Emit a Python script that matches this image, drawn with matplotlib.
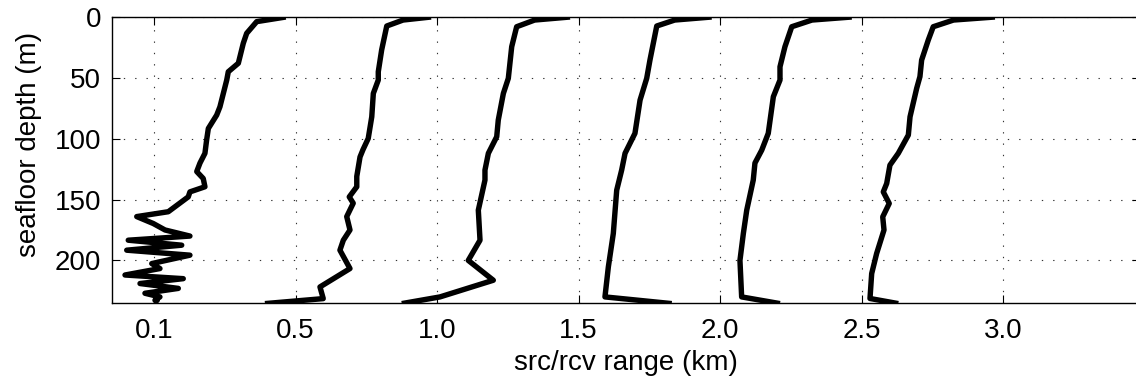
import numpy as np
import matplotlib
matplotlib.use("Agg")
import matplotlib.pyplot as plt

plt.rcParams['font.family'] = ['Liberation Sans', 'DejaVu Sans']

# Tick labels: source/receiver range (km) for each profile column
range_labels = ["0.1", "0.5", "1.0", "1.5", "2.0", "2.5", "3.0"]

# Profiles: depth (m) and normalized value (offset from own column, in column units)
depth_1 = [0, 3.8, 13.4, 21.6, 38, 45, 51.8, 73.8, 80.6, 91.6, 101, 112, 120, 127, 132.7,
           139.5, 143.7, 147.8, 160, 164, 169.7, 175, 180, 183.4, 187.5, 191.6, 195.7,
           202.6, 206.7, 212, 215, 219, 223, 227, 230, 232.7, 235]
value_1 = [0.931, 0.726, 0.655, 0.631, 0.596, 0.525, 0.514, 0.466, 0.443, 0.384, 0.372,
           0.360, 0.325, 0.302, 0.348, 0.360, 0.254, 0.242, 0.101, -0.122, -0.005, 0.078,
           0.254, -0.182, 0.196, -0.193, 0.254, -0.016, 0.042, -0.205, 0.207, -0.099,
           0.172, -0.064, 0.042, 0.007, 0.030]

depth_2 = [0, 2.5, 7.4, 27, 45, 51.8, 62.8, 82, 99.8, 109, 115, 131, 139.5, 147.8, 153,
           164, 175, 183.4, 191.6, 206.7, 221.8, 231.4, 235.5]
value_2 = [0.958, 0.76, 0.645, 0.609, 0.585, 0.585, 0.550, 0.539, 0.514, 0.477, 0.456,
           0.433, 0.433, 0.380, 0.408, 0.362, 0.385, 0.338, 0.314, 0.385, 0.173, 0.196,
           -0.216]

depth_3 = [0, 2.5, 8, 24.4, 50.4, 62.8, 84.7, 98.4, 112, 125.8, 134, 158.7, 183.4, 200,
           216.3, 230, 235.5]
value_3 = [0.940, 0.69, 0.563, 0.528, 0.504, 0.469, 0.433, 0.422, 0.363, 0.339, 0.339,
           0.292, 0.304, 0.221, 0.398, 0.021, -0.249]

depth_4 = [0, 2.5, 7.4, 35.4, 50.4, 68.3, 95.6, 112, 125.8, 142.3, 177.9, 205.3, 230, 235.5]
value_4 = [0.941, 0.68, 0.553, 0.505, 0.482, 0.435, 0.399, 0.329, 0.305, 0.270, 0.246,
           0.211, 0.187, 0.659]

depth_5 = [0, 2.5, 8, 24.4, 40.9, 51.8, 65.5, 95.6, 109.4, 120, 134, 158.7, 177.9, 200,
           230, 235.5]
value_5 = [0.931, 0.65, 0.507, 0.459, 0.424, 0.424, 0.377, 0.341, 0.295, 0.247, 0.235,
           0.189, 0.165, 0.141, 0.153, 0.424]

depth_6 = [0, 2.5, 8, 18.9, 35.4, 49, 58.6, 82, 97, 112, 121.7, 136.8, 143.7, 153.2, 164.2,
           175, 194.3, 210.8, 231.3, 235.5]
value_6 = [0.943, 0.65, 0.507, 0.472, 0.425, 0.413, 0.390, 0.343, 0.331, 0.260, 0.201,
           0.178, 0.154, 0.196, 0.150, 0.159, 0.107, 0.072, 0.060, 0.260]

profiles = [(depth_1, value_1), (depth_2, value_2), (depth_3, value_3),
            (depth_4, value_4), (depth_5, value_5), (depth_6, value_6)]

W, H = 1136, 383
fig = plt.figure(figsize=(W / 100, H / 100), dpi=100)
ax_left, ax_right, ax_top, ax_bot = 112, 1140, 17, 303
ax = fig.add_axes([ax_left / W, 1 - ax_bot / H, (ax_right - ax_left) / W, (ax_bot - ax_top) / H])

for i, (d, v) in enumerate(profiles):
    ax.plot(i + np.asarray(v), d, color='black', lw=3.9, solid_joinstyle='round',
            solid_capstyle='butt', zorder=3)

px_per_col = 141.5
x0 = -(154 - ax_left) / px_per_col
ax.set_xlim(x0, x0 + (ax_right - ax_left) / px_per_col)
ax.set_ylim(235, 0)

ax.set_xticks(range(len(range_labels)))
ax.set_xticklabels(range_labels)
ax.set_yticks([0, 50, 100, 150, 200])

ax.tick_params(axis='both', direction='in', length=6, width=0.8, labelsize=20,
               top=True, right=True, colors='black')
ax.tick_params(axis='x', pad=11)
ax.tick_params(axis='y', pad=8)

ax.grid(True, color='#333333', linestyle=(0, (1.2, 9)), linewidth=0.8)
ax.set_axisbelow(True)

for s in ['left', 'bottom', 'top']:
    ax.spines[s].set_linewidth(1.0)
ax.spines['right'].set_visible(False)

ax.set_xlabel('src/rcv range (km)', fontsize=20, labelpad=4)
ax.set_ylabel('seafloor depth (m)', fontsize=20)
ax.yaxis.set_label_coords(-0.068, 0.555)

fig.savefig('out.png', dpi=100)
